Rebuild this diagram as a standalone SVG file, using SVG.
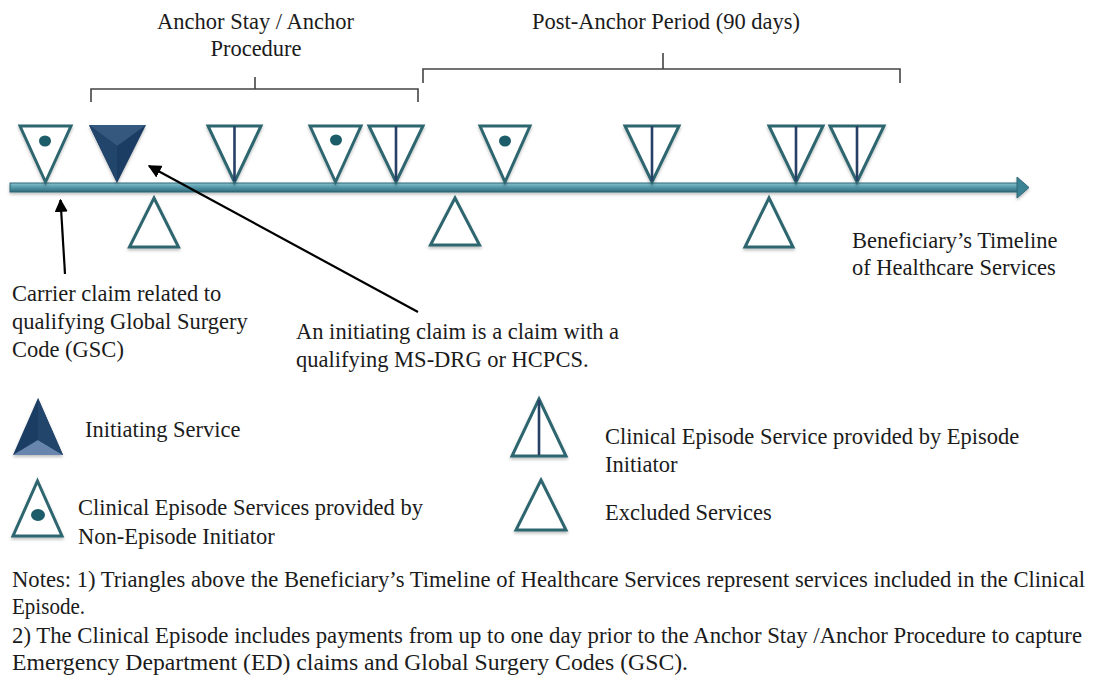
<svg xmlns="http://www.w3.org/2000/svg" width="1099" height="677" viewBox="0 0 1099 677">
<defs>
<style>
text{font-family:"Liberation Serif","Times New Roman",serif;fill:#1b1b1b;font-size:22.5px}
.tri{fill:#fff;stroke:#2f6670;stroke-width:3;stroke-linejoin:miter}
.vl{stroke:#263f66;stroke-width:2.6}
.dot{fill:#1e5d69}
.br{fill:none;stroke:#444;stroke-width:1.6}
.arr{stroke:#000;stroke-width:2.2;fill:none;marker-end:url(#ah)}
</style>
<linearGradient id="bar" x1="0" y1="0" x2="0" y2="1">
<stop offset="0" stop-color="#8cc3cf"/>
<stop offset="0.4" stop-color="#5a9fb0"/>
<stop offset="1" stop-color="#2f6a7a"/>
</linearGradient>
<marker id="ah" viewBox="0 0 10 10" refX="9" refY="5" markerWidth="6" markerHeight="6" orient="auto" markerUnits="strokeWidth">
<path d="M0,0 L10,5 L0,10 z" fill="#000"/>
</marker>
<filter id="sh" x="-20%" y="-20%" width="140%" height="150%">
<feDropShadow dx="0" dy="2" stdDeviation="1.5" flood-color="#000" flood-opacity="0.25"/>
</filter>
</defs>
<rect width="1099" height="677" fill="#fff"/>

<g id="period-labels">
<text x="255.5" y="29" text-anchor="middle">Anchor Stay / Anchor</text>
<text x="256" y="56" text-anchor="middle">Procedure</text>
<path class="br" d="M91,102 V89 H418 V102 M255,89 V77"/>
<text x="666" y="29" text-anchor="middle">Post-Anchor Period (90 days)</text>
<path class="br" d="M423,83 V69 H900 V83 M663,69 V53"/>
</g>

<g id="timeline" filter="url(#sh)">
<rect x="10" y="183" width="1009" height="9" fill="url(#bar)" stroke="#2d6676" stroke-width="1"/>
<path d="M1017,177 L1029,187.5 L1017,198 z" fill="#3a8294" stroke="#2d6676" stroke-width="1"/>
</g>

<g id="t1" filter="url(#sh)"><path class="tri" d="M20,126 H71 L45.5,182 z"/><ellipse class="dot" cx="45" cy="141" rx="6" ry="5.5"/></g>
<g id="t2" filter="url(#sh)">
<path d="M89,125 H146 L117,183 z" fill="#1f3d64"/>
<path d="M89,125 H146 L117,146 z" fill="#34587f"/>
<path d="M89,125 L117,146 L117,183 z" fill="#22446c"/>
</g>
<g id="t3" filter="url(#sh)"><path class="tri" d="M208,126 H261 L234.5,182 z"/><line class="vl" x1="234.5" y1="126" x2="234.5" y2="181"/></g>
<g id="t4" filter="url(#sh)"><path class="tri" d="M310,126 H361 L335.5,182 z"/><ellipse class="dot" cx="336" cy="140" rx="6" ry="5.5"/></g>
<g id="t5" filter="url(#sh)"><path class="tri" d="M369,126 H423 L396,182 z"/><line class="vl" x1="396" y1="126" x2="396" y2="181"/></g>
<g id="t6" filter="url(#sh)"><path class="tri" d="M480,126 H530 L505,182 z"/><ellipse class="dot" cx="505" cy="141" rx="6" ry="5.5"/></g>
<g id="t7" filter="url(#sh)"><path class="tri" d="M625,126 H679 L652,182 z"/><line class="vl" x1="652" y1="126" x2="652" y2="181"/></g>
<g id="t8" filter="url(#sh)"><path class="tri" d="M769,126 H823 L796,182 z"/><line class="vl" x1="796" y1="126" x2="796" y2="181"/></g>
<g id="t9" filter="url(#sh)"><path class="tri" d="M830,126 H884 L857,182 z"/><line class="vl" x1="857" y1="126" x2="857" y2="181"/></g>

<g id="x1" filter="url(#sh)"><path class="tri" d="M154,198 L178.5,247 H129.5 z"/></g>
<g id="x2" filter="url(#sh)"><path class="tri" d="M455,198 L479.5,245 H430.5 z"/></g>
<g id="x3" filter="url(#sh)"><path class="tri" d="M769,198 L793,247 H745 z"/></g>

<g id="connectors">
<line class="arr" x1="65" y1="274" x2="60.5" y2="200"/>
<line class="arr" x1="418" y1="312" x2="149" y2="166"/>
</g>

<g id="timeline-label">
<text x="852" y="248">Beneficiary’s Timeline</text>
<text x="852" y="275">of Healthcare Services</text>
</g>

<g id="carrier-note">
<text x="12" y="301">Carrier claim related to</text>
<text x="12" y="329">qualifying Global Surgery</text>
<text x="12" y="357">Code (GSC)</text>
</g>

<g id="initiating-note">
<text x="296" y="339">An initiating claim is a claim with a</text>
<text x="296" y="367">qualifying MS-DRG or HCPCS.</text>
</g>

<g id="legend-initiating">
<g filter="url(#sh)">
<path d="M38,398 L63,455 H13 z" fill="#1f3d64"/>
<path d="M13,455 H63 L38,440 z" fill="#6786ad"/>
<path d="M38,398 L38,440 L63,455 z" fill="#22446c"/>
</g>
<text x="85" y="437">Initiating Service</text>
</g>

<g id="legend-non-initiator">
<g filter="url(#sh)"><path class="tri" d="M37.5,481 L62,536 H13 z"/><ellipse class="dot" cx="38" cy="515" rx="7" ry="6"/></g>
<text x="78" y="515">Clinical Episode Services provided by</text>
<text x="78" y="544">Non-Episode Initiator</text>
</g>

<g id="legend-initiator">
<g filter="url(#sh)"><path class="tri" d="M539,399 L566,456 H512 z"/><line class="vl" x1="539" y1="400" x2="539" y2="455"/></g>
<text x="605" y="444">Clinical Episode Service provided by Episode</text>
<text x="605" y="472">Initiator</text>
</g>

<g id="legend-excluded">
<g filter="url(#sh)"><path class="tri" d="M541,480 L566,530 H516 z"/></g>
<text x="605" y="520">Excluded Services</text>
</g>

<g id="notes">
<text x="12" y="587" textLength="1073" lengthAdjust="spacingAndGlyphs">Notes: 1) Triangles above the Beneficiary’s Timeline of Healthcare Services represent services included in the Clinical</text>
<text x="12" y="614" textLength="73" lengthAdjust="spacingAndGlyphs">Episode.</text>
<text x="12" y="643" textLength="1070" lengthAdjust="spacingAndGlyphs">2) The Clinical Episode includes payments from up to one day prior to the Anchor Stay /Anchor Procedure to capture</text>
<text x="12" y="670" textLength="676" lengthAdjust="spacingAndGlyphs">Emergency Department (ED) claims and Global Surgery Codes (GSC).</text>
</g>
</svg>
